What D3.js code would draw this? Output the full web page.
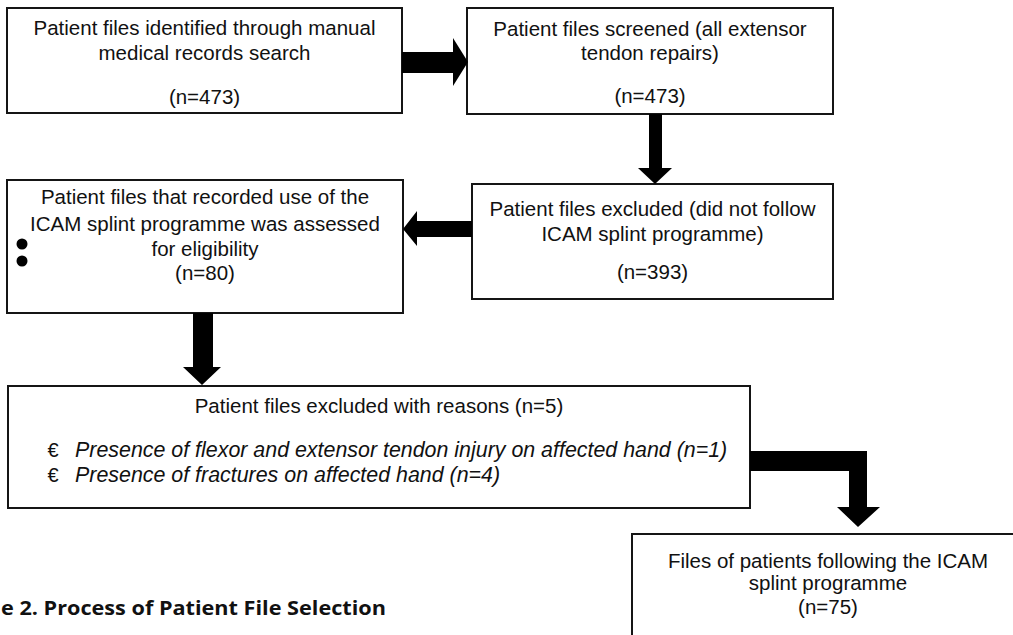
<!DOCTYPE html>
<html>
<head>
<meta charset="utf-8">
<script src="https://cdn.jsdelivr.net/npm/d3@7"></script>
<style>
  body { margin: 0; background: #fff; }
  svg { display: block; }
</style>
</head>
<body>
<div id="chart"></div>
<script>
// Box texts and counts (flow order)
var boxTitles = [
  ["Patient files identified through manual", "medical records search"],
  ["Patient files screened (all extensor", "tendon repairs)"],
  ["Patient files excluded (did not follow", "ICAM splint programme)"],
  ["Patient files that recorded use of the", "ICAM splint programme was assessed", "for eligibility"],
  ["Patient files excluded with reasons (n=5)"],
  ["Files of patients following the ICAM", "splint programme"]
];
var boxCounts = [473, 473, 393, 80, null, 75];
var reasons = [
  "Presence of flexor and extensor tendon injury on affected hand",
  "Presence of fractures on affected hand"
];
var reasonCounts = [1, 4];
var caption = "e 2. Process of Patient File Selection";

// Layout of the diagram (pixels)
var layout = [
  { x0: 7, y0: 8, x1: 402, y1: 113, lines: [35, 60, 104] },
  { x0: 467, y0: 8, x1: 833, y1: 114, lines: [36, 60, 103] },
  { x0: 472, y0: 184, x1: 833, y1: 299, lines: [216, 241, 279] },
  { x0: 7, y0: 180, x1: 403, y1: 313, lines: [204, 231, 256, 280] },
  { x0: 8, y0: 386, x1: 750, y1: 508, lines: [413] },
  { x0: 632, y0: 534, x1: 1020, y1: 645, lines: [568, 590, 614] }
];
var reasonLines = [457, 482];

var svg = d3.select("#chart")
  .append("svg")
  .attr("width", 1013)
  .attr("height", 635);

var font = "'Liberation Sans', Arial, Helvetica, sans-serif";

// Boxes
var boxes = svg.selectAll(".box")
  .data(layout)
  .enter()
  .append("g")
  .attr("class", "box");

boxes.append("rect")
  .attr("x", function (d) { return d.x0; })
  .attr("y", function (d) { return d.y0; })
  .attr("width", function (d) { return d.x1 - d.x0; })
  .attr("height", function (d) { return d.y1 - d.y0; })
  .attr("fill", "#fff")
  .attr("stroke", "#151515")
  .attr("stroke-width", 2);

boxes.each(function (d, i) {
  var lines = boxTitles[i].slice();
  if (boxCounts[i] !== null) lines.push("(n=" + boxCounts[i] + ")");
  var cx = (d.x0 + d.x1) / 2;
  if (i === 5) cx = 828;
  d3.select(this).selectAll("text")
    .data(lines)
    .enter()
    .append("text")
    .attr("x", cx)
    .attr("y", function (t, j) { return d.lines[j]; })
    .attr("text-anchor", "middle")
    .attr("font-family", font)
    .attr("font-size", "20.5px")
    .attr("fill", "#111")
    .text(function (t) { return t; });
});

// Exclusion reasons (italic list with euro bullets)
var reasonG = svg.append("g");
reasonG.selectAll(".bullet")
  .data(reasons)
  .enter()
  .append("text")
  .attr("class", "bullet")
  .attr("x", 53)
  .attr("y", function (d, i) { return reasonLines[i]; })
  .attr("text-anchor", "middle")
  .attr("font-family", font)
  .attr("font-size", "20px")
  .attr("fill", "#111")
  .text("\u20AC");

reasonG.selectAll(".reason")
  .data(reasons)
  .enter()
  .append("text")
  .attr("class", "reason")
  .attr("x", 75)
  .attr("y", function (d, i) { return reasonLines[i]; })
  .attr("font-family", font)
  .attr("font-style", "italic")
  .attr("font-size", "21.4px")
  .attr("fill", "#111")
  .text(function (d, i) { return d + " (n=" + reasonCounts[i] + ")"; });

// Two stray dots at the left of box 4
svg.selectAll(".dot")
  .data([244, 261])
  .enter()
  .append("circle")
  .attr("cx", 22)
  .attr("cy", function (d) { return d; })
  .attr("r", 5.5)
  .attr("fill", "#000");

// Block arrows
var arrows = [
  // right: box 1 -> box 2
  [[402, 52], [453, 52], [453, 38], [468, 62], [453, 86], [453, 73], [402, 73]],
  // down: box 2 -> box 3
  [[649, 114], [662, 114], [662, 168], [672, 168], [655, 184], [638, 168], [649, 168]],
  // left: box 3 -> box 4
  [[472, 221], [417, 221], [417, 211], [403, 229], [417, 246], [417, 237], [472, 237]],
  // down: box 4 -> box 5
  [[193, 313], [213, 313], [213, 367], [221, 367], [202, 385], [183, 367], [193, 367]],
  // elbow: box 5 -> box 6
  [[750, 451], [867, 451], [867, 507], [880, 507], [858, 527], [837, 507], [849, 507], [849, 471], [750, 471]]
];

svg.selectAll(".arrow")
  .data(arrows)
  .enter()
  .append("path")
  .attr("class", "arrow")
  .attr("d", function (d) { return d3.line()(d) + "Z"; })
  .attr("fill", "#000");

// Caption (cut off at the left edge in the source)
svg.append("text")
  .attr("x", 1)
  .attr("y", 615)
  .attr("font-family", "'Open Sans', Lato, sans-serif")
  .attr("font-weight", "bold")
  .attr("font-size", "19px")
  .attr("textLength", 385)
  .attr("lengthAdjust", "spacingAndGlyphs")
  .attr("fill", "#111")
  .text(caption);
</script>
</body>
</html>
